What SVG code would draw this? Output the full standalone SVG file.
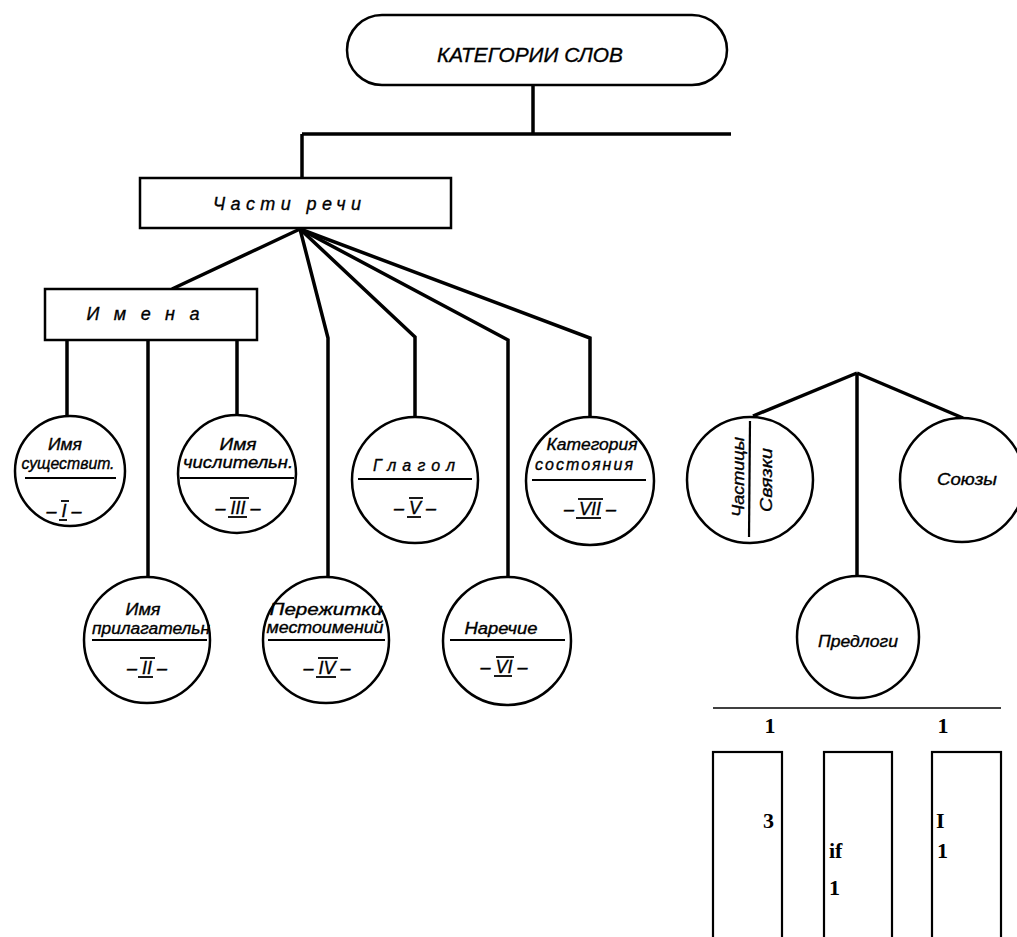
<svg xmlns="http://www.w3.org/2000/svg" width="1017" height="937" viewBox="0 0 1017 937">
<style>
.bg{fill:#fff}
.box{fill:#fff;stroke:#000;stroke-width:2.5}
.node{fill:#fff;stroke:#000;stroke-width:2.5}
.con{fill:none;stroke:#000;stroke-width:3.5;stroke-linejoin:miter}
.div{stroke:#000;stroke-width:2.2}
.bar{stroke:#000;stroke-width:1.8}
.t{font-family:"Liberation Sans","DejaVu Sans",sans-serif;font-style:italic;fill:#000;stroke:#000;stroke-width:0.35;text-anchor:middle}
.s{font-size:16px}
.n{font-size:18px}
.b{font-family:"Liberation Serif",serif;font-weight:bold;font-size:22px;fill:#000}
.thin{stroke:#000;stroke-width:1.6}
.rect{fill:none;stroke:#000;stroke-width:2.2}
</style>
<rect class="bg" x="0" y="0" width="1017" height="937"/>

<g id="connectors">
  <path class="con" d="M533,85 V134"/>
  <path class="con" d="M302,134 H731"/>
  <path class="con" d="M302,134 V178"/>
  <path class="con" d="M300,229 L172,289"/>
  <path class="con" d="M300,229 L328,338 V577"/>
  <path class="con" d="M300,229 L415,337 V417"/>
  <path class="con" d="M300,229 L508,340 V577"/>
  <path class="con" d="M300,229 L590,338 V417"/>
  <path class="con" d="M67,340 V417"/>
  <path class="con" d="M148,340 V577"/>
  <path class="con" d="M237,340 V417"/>
  <path class="con" d="M857,373 L753,416"/>
  <path class="con" d="M857,373 L963,418"/>
  <path class="con" d="M857,373 V577"/>
</g>

<g id="kategorii">
  <rect class="box" x="347" y="15" width="380" height="70" rx="35" ry="35"/>
  <text class="t" x="530" y="62" font-size="21" textLength="186" lengthAdjust="spacingAndGlyphs">КАТЕГОРИИ  СЛОВ</text>
</g>

<g id="chasti-rechi">
  <rect class="box" x="140" y="178" width="311" height="50"/>
  <text class="t" x="287" y="210" font-size="18" textLength="148" lengthAdjust="spacing">Части речи</text>
</g>

<g id="imena">
  <rect class="box" x="45" y="289" width="212" height="51"/>
  <text class="t" x="143" y="320" font-size="18" textLength="113" lengthAdjust="spacing">Имена</text>
</g>

<g id="n1">
  <circle class="node" cx="70" cy="471" r="55"/>
  <text class="t s" x="65" y="450" textLength="34" lengthAdjust="spacingAndGlyphs">Имя</text>
  <text class="t s" x="68" y="469" textLength="93" lengthAdjust="spacingAndGlyphs">существит.</text>
  <line class="div" x1="25" y1="478" x2="116" y2="478"/>
  <text class="t n" x="64" y="517">–  I  –</text>
  <line class="bar" x1="61" y1="501" x2="69" y2="501"/><line class="bar" x1="59" y1="520" x2="67" y2="520"/>
</g>

<g id="n3">
  <circle class="node" cx="237" cy="474" r="59"/>
  <text class="t s" x="238" y="450" textLength="37" lengthAdjust="spacingAndGlyphs">Имя</text>
  <text class="t s" x="238" y="468" textLength="110" lengthAdjust="spacingAndGlyphs">числительн.</text>
  <line class="div" x1="180" y1="478" x2="294" y2="478"/>
  <text class="t n" x="238" y="514">–  III  –</text>
  <line class="bar" x1="230" y1="498" x2="249" y2="498"/><line class="bar" x1="228" y1="517" x2="247" y2="517"/>
</g>

<g id="n5">
  <circle class="node" cx="415" cy="480" r="63"/>
  <text class="t s" x="414" y="471" textLength="82" lengthAdjust="spacing">Глагол</text>
  <line class="div" x1="358" y1="479" x2="472" y2="479"/>
  <text class="t n" x="415" y="514">–  V  –</text>
  <line class="bar" x1="409" y1="498" x2="423" y2="498"/><line class="bar" x1="407" y1="517" x2="421" y2="517"/>
</g>

<g id="n7">
  <circle class="node" cx="590" cy="481" r="64"/>
  <text class="t s" x="592" y="450" textLength="91" lengthAdjust="spacingAndGlyphs">Категория</text>
  <text class="t s" x="584" y="470" textLength="98" lengthAdjust="spacing">состояния</text>
  <line class="div" x1="532" y1="480" x2="646" y2="480"/>
  <text class="t n" x="590" y="515">–  VII  –</text>
  <line class="bar" x1="578" y1="499" x2="603" y2="499"/><line class="bar" x1="576" y1="518" x2="601" y2="518"/>
</g>

<g id="n2">
  <circle class="node" cx="147" cy="640" r="63"/>
  <text class="t s" x="143" y="615" textLength="35" lengthAdjust="spacingAndGlyphs">Имя</text>
  <text class="t s" x="151" y="634" textLength="118" lengthAdjust="spacingAndGlyphs">прилагательн</text>
  <line class="div" x1="92" y1="640" x2="207" y2="640"/>
  <text class="t n" x="147" y="674">–  II  –</text>
  <line class="bar" x1="140" y1="658" x2="155" y2="658"/><line class="bar" x1="138" y1="677" x2="153" y2="677"/>
</g>

<g id="n4">
  <circle class="node" cx="326" cy="640" r="63"/>
  <text class="t s" x="326" y="615" textLength="113" lengthAdjust="spacingAndGlyphs">Пережитки</text>
  <text class="t s" x="325" y="633" textLength="117" lengthAdjust="spacingAndGlyphs">местоимений</text>
  <line class="div" x1="268" y1="640" x2="385" y2="640"/>
  <text class="t n" x="327" y="674">–  IV  –</text>
  <line class="bar" x1="318" y1="658" x2="338" y2="658"/><line class="bar" x1="316" y1="677" x2="336" y2="677"/>
</g>

<g id="n6">
  <circle class="node" cx="507" cy="641" r="64"/>
  <text class="t s" x="501" y="634" textLength="73" lengthAdjust="spacingAndGlyphs">Наречие</text>
  <line class="div" x1="450" y1="640" x2="565" y2="640"/>
  <text class="t n" x="504" y="673">–  VI  –</text>
  <line class="bar" x1="496" y1="657" x2="514" y2="657"/><line class="bar" x1="494" y1="676" x2="512" y2="676"/>
</g>

<g id="chastitsy">
  <circle class="node" cx="750" cy="480" r="63"/>
  <line class="div" x1="750" y1="421" x2="749" y2="537"/>
  <text class="t s" transform="translate(744,477) rotate(-90)" x="0" y="0" textLength="80" lengthAdjust="spacingAndGlyphs">Частицы</text>
  <text class="t s" transform="translate(772,480) rotate(-90)" x="0" y="0" textLength="64" lengthAdjust="spacingAndGlyphs">Связки</text>
</g>

<g id="soyuzy">
  <circle class="node" cx="962" cy="480" r="62"/>
  <text class="t s" x="967" y="485" textLength="60" lengthAdjust="spacingAndGlyphs">Союзы</text>
</g>

<g id="predlogi">
  <circle class="node" cx="858" cy="637" r="61"/>
  <text class="t s" x="858" y="647" textLength="80" lengthAdjust="spacingAndGlyphs">Предлоги</text>
</g>

<g id="table">
  <line class="thin" x1="713" y1="708" x2="1001" y2="708"/>
  <text class="b" x="770" y="733" text-anchor="middle">1</text>
  <text class="b" x="943" y="733" text-anchor="middle">1</text>
  <rect class="rect" x="713" y="752" width="69" height="200"/>
  <rect class="rect" x="824" y="752" width="68" height="200"/>
  <rect class="rect" x="932" y="752" width="69" height="200"/>
  <text class="b" x="763" y="828">3</text>
  <text class="b" x="829" y="858">if</text>
  <text class="b" x="829" y="895">1</text>
  <text class="b" x="936" y="828">I</text>
  <text class="b" x="937" y="858">1</text>
</g>
</svg>
